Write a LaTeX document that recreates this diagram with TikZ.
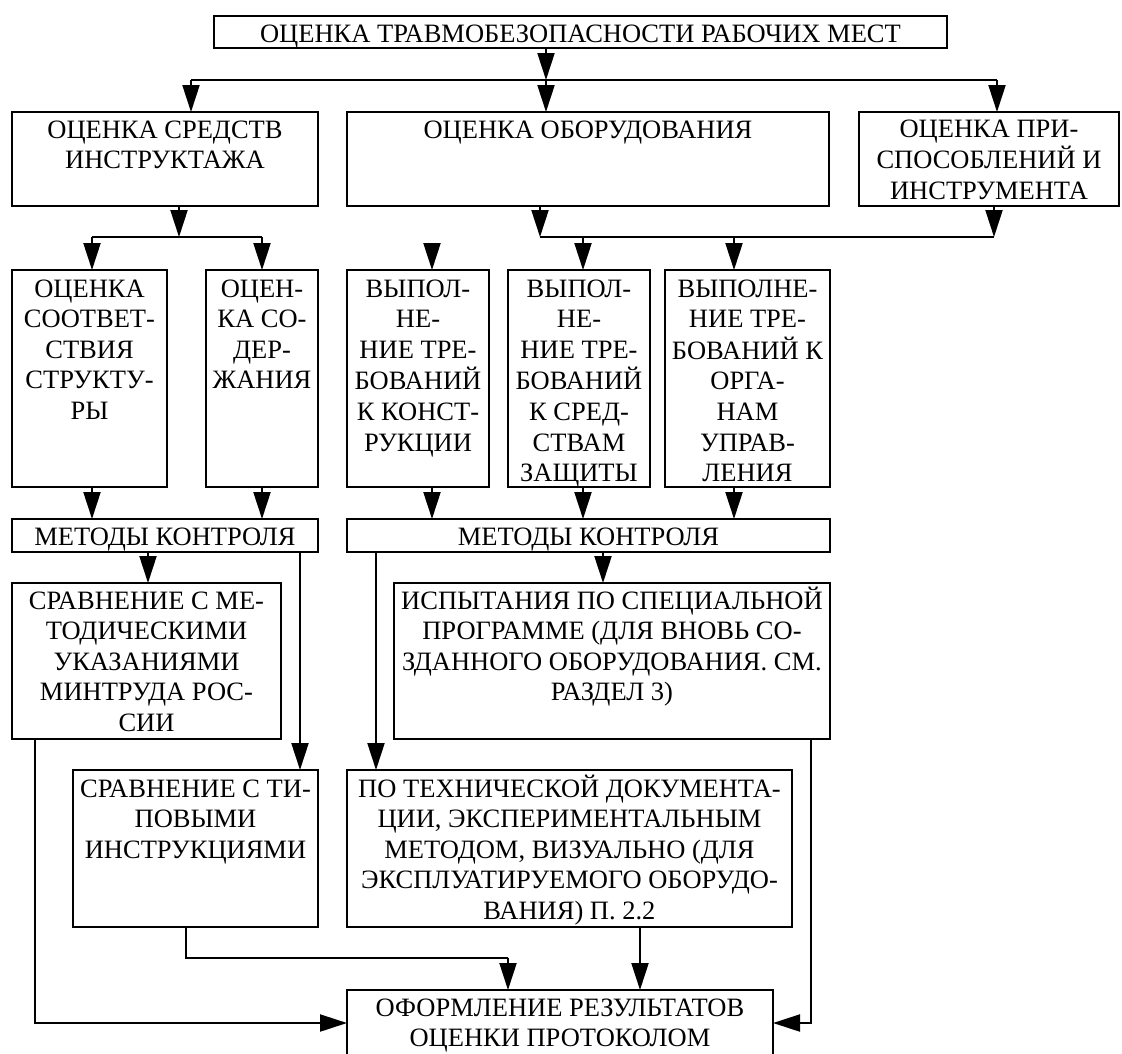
\documentclass[tikz,border=0pt]{standalone}
\usepackage{fontspec}
\setmainfont{Liberation Serif}
\usetikzlibrary{arrows.meta}
\newcommand\lns[1]{\begin{tabular}[t]{@{}c@{}}#1\end{tabular}}
\newcommand\bx[7]{%
  \node[boxst, minimum width={#4-#2}, minimum height={#5-#3}] (#1) at (#2,#3) {};
  \node[textst] (#1-t) at ({(#2+#4)/2},{#3+#6}) {\lns{#7}};}
\begin{document}
\begin{tikzpicture}[x=1pt, y=-1pt,
  boxst/.style={draw, line width=2.2pt, inner sep=0pt, outer sep=0pt, anchor=north west},
  textst/.style={anchor=base, inner sep=0pt, font=\fontsize{26.5}{30.6}\selectfont},
  lnst/.style={line width=2.1pt},
  arrst/.style={lnst, -{Triangle[length=27pt,width=17pt]}}]
\fill[white] (0,0) rectangle (1122,1053);
\useasboundingbox (0,0) rectangle (1122,1053);
\begin{scope}
\clip (0,0) rectangle (1122,1053);
% boxes
\bx{T}{214}{16}{947}{48}{26}{ОЦЕНКА ТРАВМОБЕЗОПАСНОСТИ РАБОЧИХ МЕСТ}
\bx{S1}{12}{112}{318}{206}{26}{ОЦЕНКА СРЕДСТВ\\ИНСТРУКТАЖА}
\bx{S2}{347}{112}{829}{206}{26}{ОЦЕНКА ОБОРУДОВАНИЯ}
\bx{S3}{859}{112}{1119}{206}{25}{ОЦЕНКА ПРИ-\\СПОСОБЛЕНИЙ И\\ИНСТРУМЕНТА}
\bx{R1}{12}{270}{167}{487}{27}{ОЦЕНКА\\СООТВЕТ-\\СТВИЯ\\СТРУКТУ-\\РЫ}
\bx{R2}{206}{270}{318}{487}{27}{ОЦЕН-\\КА СО-\\ДЕР-\\ЖАНИЯ}
\bx{R3}{347}{270}{489}{487}{27}{ВЫПОЛ-\\НЕ-\\НИЕ ТРЕ-\\БОВАНИЙ\\К КОНСТ-\\РУКЦИИ}
\bx{R4}{508}{270}{650}{487}{27}{ВЫПОЛ-\\НЕ-\\НИЕ ТРЕ-\\БОВАНИЙ\\К СРЕД-\\СТВАМ\\ЗАЩИТЫ}
\bx{R5}{665}{270}{830}{487}{27}{ВЫПОЛНЕ-\\НИЕ ТРЕ-\\БОВАНИЙ К\\ОРГА-\\НАМ\\УПРАВ-\\ЛЕНИЯ}
\bx{M1}{12}{519}{318}{552}{26}{МЕТОДЫ КОНТРОЛЯ}
\bx{M2}{347}{519}{830}{552}{26}{МЕТОДЫ КОНТРОЛЯ}
\bx{C1}{12}{583}{281}{739}{26}{СРАВНЕНИЕ С МЕ-\\ТОДИЧЕСКИМИ\\УКАЗАНИЯМИ\\МИНТРУДА РОС-\\СИИ}
\bx{C2}{394}{583}{830}{739}{26}{ИСПЫТАНИЯ ПО СПЕЦИАЛЬНОЙ\\ПРОГРАММЕ (ДЛЯ ВНОВЬ СО-\\ЗДАННОГО ОБОРУДОВАНИЯ. СМ.\\РАЗДЕЛ 3)}
\bx{D1}{73}{770}{318}{927}{27}{СРАВНЕНИЕ С ТИ-\\ПОВЫМИ\\ИНСТРУКЦИЯМИ}
\bx{D2}{347}{770}{792}{927}{27}{ПО ТЕХНИЧЕСКОЙ ДОКУМЕНТА-\\ЦИИ, ЭКСПЕРИМЕНТАЛЬНЫМ\\МЕТОДОМ, ВИЗУАЛЬНО (ДЛЯ\\ЭКСПЛУАТИРУЕМОГО ОБОРУДО-\\ВАНИЯ) П. 2.2}
\bx{F}{347}{990}{773}{1056}{26}{ОФОРМЛЕНИЕ РЕЗУЛЬТАТОВ\\ОЦЕНКИ ПРОТОКОЛОМ}
% junctions
\coordinate (j1) at (546,80);
\coordinate (j1a) at (191,80);
\coordinate (j1c) at (997,80);
\coordinate (j2) at (179,237);
\coordinate (j2a) at (92,237);
\coordinate (j2b) at (262,237);
\coordinate (j3) at (540,237);
\coordinate (j3c) at (994,237);
\coordinate (j3a) at (583,237);
\coordinate (j3b) at (734,237);
\coordinate (f1) at (432,243);
\coordinate (k1) at (508,958);
% top level
\draw[arrst] (T.south -| j1) -- (j1);
\draw[lnst] (j1a) -- (j1c);
\draw[arrst] (j1a) -- (j1a |- S1.north);
\draw[arrst] (j1) -- (j1 |- S2.north);
\draw[arrst] (j1c) -- (j1c |- S3.north);
% second level
\draw[arrst] (S1.south -| j2) -- (j2);
\draw[lnst] (j2a) -- (j2b);
\draw[arrst] (j2a) -- (j2a |- R1.north);
\draw[arrst] (j2b) -- (j2b |- R2.north);
\draw[arrst] (S2.south -| j3) -- (j3);
\draw[arrst] (S3.south -| j3c) -- (j3c);
\draw[lnst] (j3) -- (j3c);
\draw[arrst] (j3a) -- (j3a |- R4.north);
\draw[arrst] (j3b) -- (j3b |- R5.north);
\draw[arrst] (f1) -- (f1 |- R3.north);
% to methods
\draw[arrst] (R1.south -| 92,0) -- (M1.north -| 92,0);
\draw[arrst] (R2.south -| 262,0) -- (M1.north -| 262,0);
\draw[arrst] (R3.south -| 432,0) -- (M2.north -| 432,0);
\draw[arrst] (R4.south -| 583,0) -- (M2.north -| 583,0);
\draw[arrst] (R5.south -| 734,0) -- (M2.north -| 734,0);
% methods to methods boxes
\draw[arrst] (M1.south -| 148,0) -- (C1.north -| 148,0);
\draw[arrst] (M1.south -| 300,0) -- (D1.north -| 300,0);
\draw[arrst] (M2.south -| 376,0) -- (D2.north -| 376,0);
\draw[arrst] (M2.south -| 603,0) -- (C2.north -| 603,0);
% to result
\draw[arrst] (C1.south -| 35,0) |- (F.west);
\draw[lnst] (D1.south -| 186,0) |- (k1);
\draw[arrst] (k1) -- (F.north -| k1);
\draw[arrst] (D2.south -| 640,0) -- (F.north -| 640,0);
\draw[arrst] (C2.south -| 811,0) |- (F.east);
\end{scope}
\end{tikzpicture}
\end{document}
